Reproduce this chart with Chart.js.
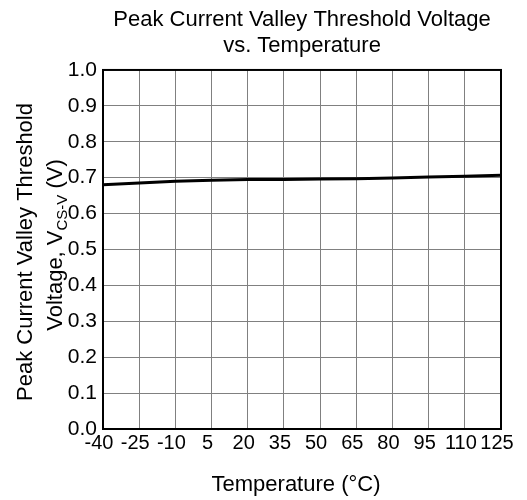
<!DOCTYPE html>
<html>
<head>
<meta charset="utf-8">
<script src="https://cdn.jsdelivr.net/npm/chart.js@4/dist/chart.umd.min.js"></script>
<style>
  html, body { margin: 0; padding: 0; background: #fff; }
  #wrap { width: 527px; height: 500px; }
</style>
</head>
<body>
<div id="wrap"><canvas id="tempChart" width="527" height="500"></canvas></div>
<script>
// temperature points (°C) and valley threshold voltage (V)
const temps = [-40, -25, -10, 5, 20, 35, 50, 65, 80, 95, 110, 125];
const voltage = [0.680, 0.685, 0.690, 0.693, 0.695, 0.695, 0.696, 0.697, 0.699, 0.702, 0.704, 0.707];
const xTicks = [-40, -25, -10, 5, 20, 35, 50, 65, 80, 95, 110, 125];
const yTicks = [0.0, 0.1, 0.2, 0.3, 0.4, 0.5, 0.6, 0.7, 0.8, 0.9, 1.0];

const FONT = "'Liberation Sans', Arial, sans-serif";

// frame round the plot, rotated y title with subscript, x title
const framePlugin = {
  id: "frame",
  afterDraw(chart) {
    const { ctx, chartArea: a } = chart;
    ctx.save();
    ctx.strokeStyle = "#000";
    ctx.lineWidth = 2;
    ctx.strokeRect(a.left, a.top, a.right - a.left, a.bottom - a.top);

    ctx.fillStyle = "#000";
    ctx.textBaseline = "alphabetic";
    ctx.textAlign = "left";
    const big = "22px " + FONT;
    const small = "15px " + FONT;

    // x title
    ctx.font = big;
    ctx.textAlign = "center";
    ctx.fillText("Temperature (°C)", 296, 491);
    ctx.textAlign = "left";

    // first line
    const l1 = "Peak Current Valley Threshold";
    const w1 = ctx.measureText(l1).width;
    ctx.save();
    ctx.translate(32, 252);
    ctx.rotate(-Math.PI / 2);
    ctx.fillText(l1, -w1 / 2, 0);
    ctx.restore();

    // second line: Voltage, V_CS-V (V)
    const p1 = "Voltage, V", sub = "CS-V", p2 = " (V)";
    const wa = ctx.measureText(p1).width;
    const wc = ctx.measureText(p2).width;
    ctx.font = small;
    const wb = ctx.measureText(sub).width;
    const total = wa + wb + wc;
    ctx.save();
    ctx.translate(62, 245);
    ctx.rotate(-Math.PI / 2);
    let x0 = -total / 2;
    ctx.font = big;
    ctx.fillText(p1, x0, 0);
    ctx.font = small;
    ctx.fillText(sub, x0 + wa, 5);
    ctx.font = big;
    ctx.fillText(p2, x0 + wa + wb, 0);
    ctx.restore();
    ctx.restore();
  }
};

document.addEventListener("DOMContentLoaded", function () {
  const ctx = document.getElementById("tempChart").getContext("2d");

  new Chart(ctx, {
    type: "line",
    data: {
      datasets: [
        {
          label: "VCS-V",
          data: temps.map((t, i) => ({ x: t, y: voltage[i] })),
          borderColor: "#000",
          borderWidth: 3,
          pointRadius: 0,
          fill: false,
          tension: 0
        }
      ]
    },
    options: {
      responsive: false,
      animation: false,
      layout: { padding: { left: 0, right: 26, top: 0, bottom: 0 } },
      plugins: {
        legend: { display: false },
        tooltip: { enabled: false },
        title: {
          display: true,
          fullSize: false,
          text: ["Peak Current Valley Threshold Voltage", "vs. Temperature"],
          color: "#000",
          font: { family: FONT, size: 22, weight: "normal", lineHeight: 1.19 },
          padding: { top: 7, bottom: 10.6 }
        }
      },
      scales: {
        x: {
          type: "linear",
          min: -40,
          max: 125,
          afterBuildTicks: (axis) => { axis.ticks = xTicks.map(v => ({ value: v })); },
          afterFit: (axis) => { axis.height = 71; },
          grid: { color: "#808080", lineWidth: 1, drawTicks: false },
          border: { display: false },
          ticks: {
            color: "#000",
            padding: 2,
            labelOffset: -4,
            maxRotation: 0,
            autoSkip: false,
            font: { family: FONT, size: 20 }
          }
        },
        y: {
          min: 0,
          max: 1,
          afterBuildTicks: (axis) => { axis.ticks = yTicks.map(v => ({ value: v })); },
          afterFit: (axis) => { axis.width = 103; },
          grid: { color: "#808080", lineWidth: 1, drawTicks: false },
          border: { display: false },
          ticks: {
            color: "#000",
            padding: 6,
            autoSkip: false,
            font: { family: FONT, size: 21 },
            callback: (v) => Number(v).toFixed(1)
          }
        }
      }
    },
    plugins: [framePlugin]
  });
});
</script>
</body>
</html>
